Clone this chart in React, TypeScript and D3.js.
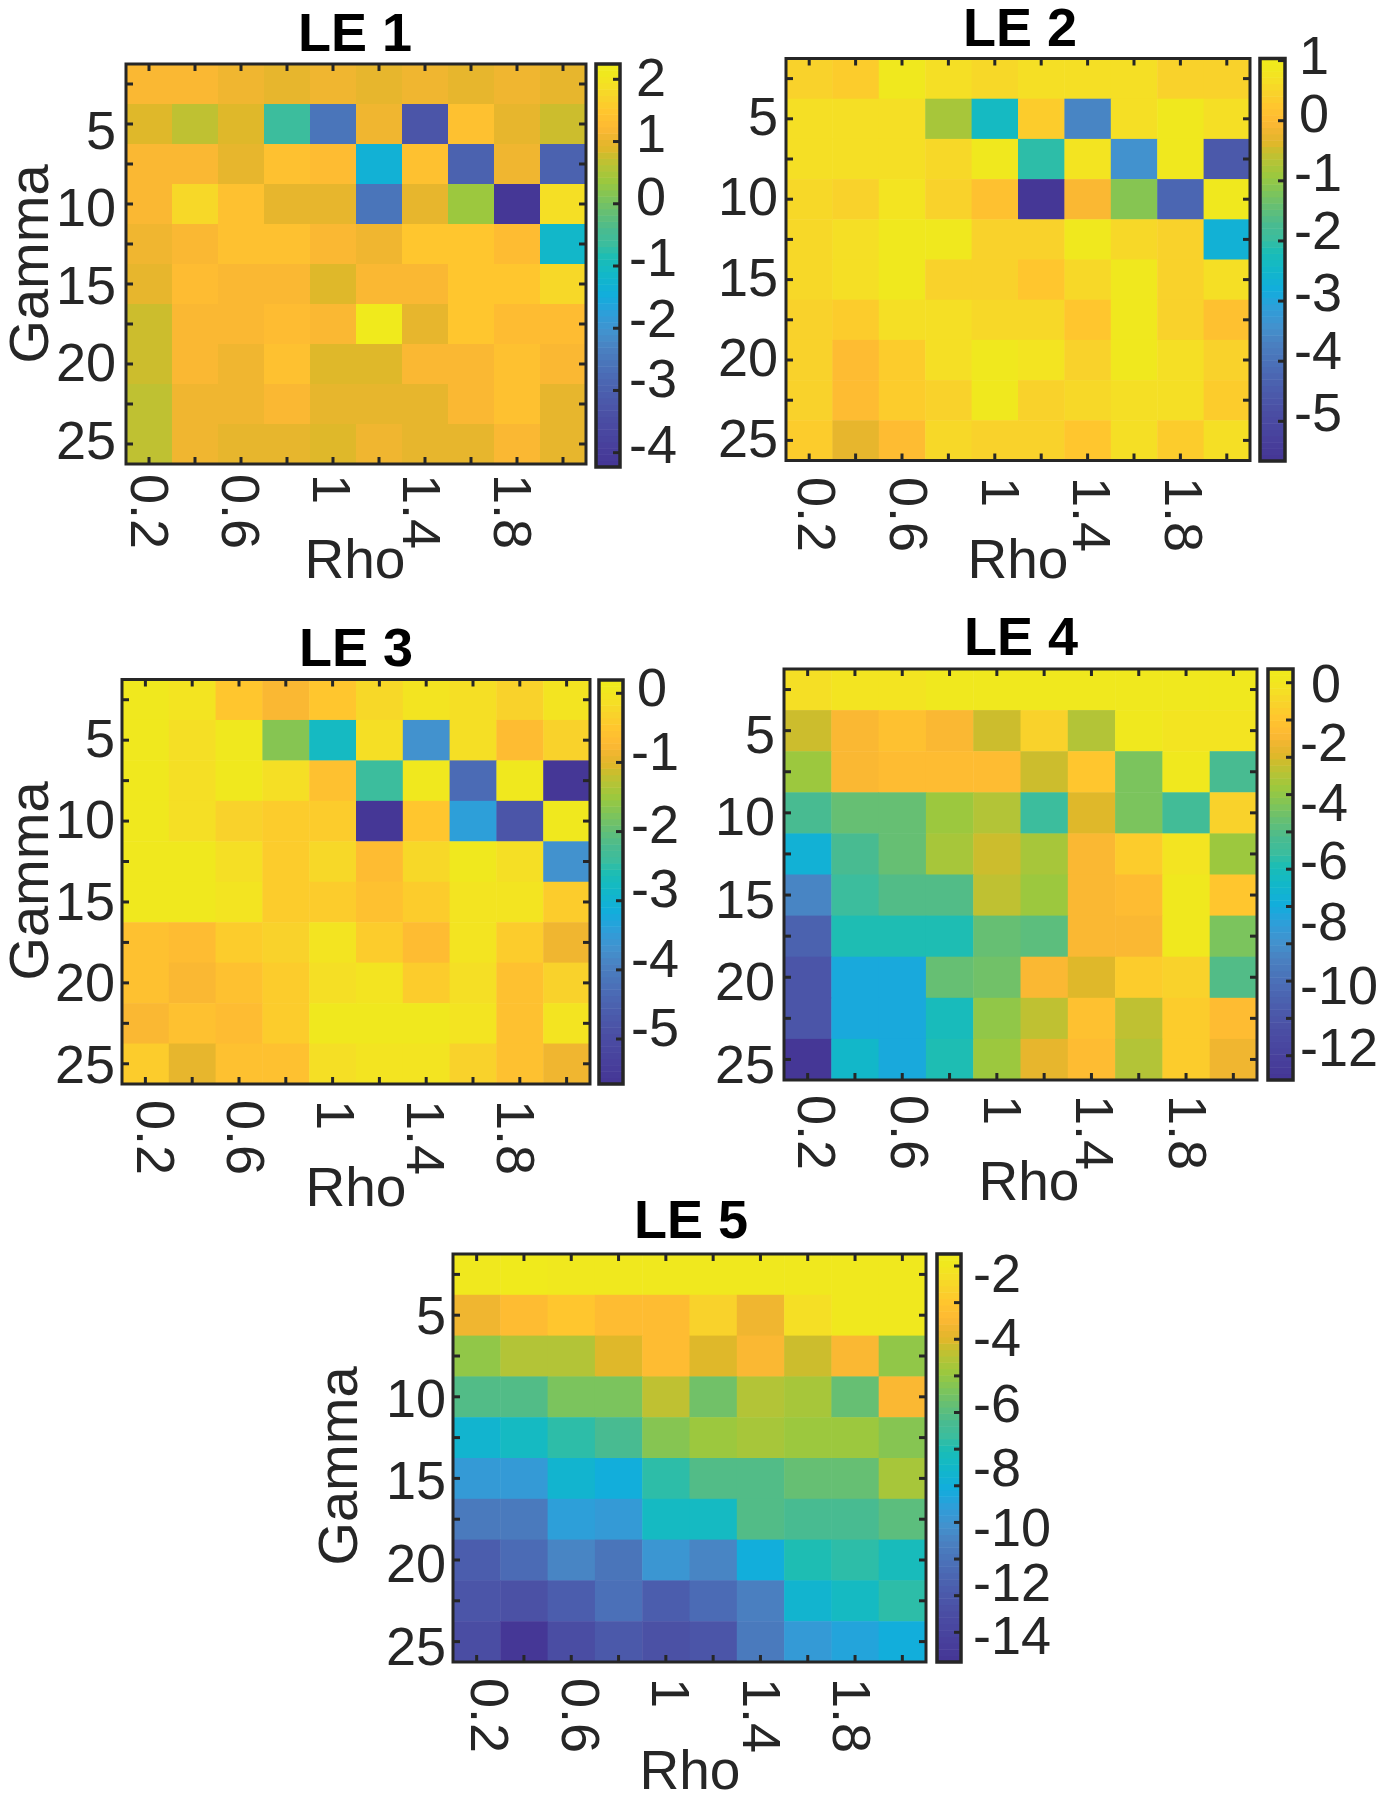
import { useEffect, useRef } from 'react';
import * as d3 from 'd3';

const rhoValues = [0.2, 0.4, 0.6, 0.8, 1, 1.2, 1.4, 1.6, 1.8, 2];
const gammaValues = [2.5, 5, 7.5, 10, 12.5, 15, 17.5, 20, 22.5, 25];
const rhoLabels = ['0.2', '0.6', '1', '1.4', '1.8'];
const gammaLabels = ['5', '10', '15', '20', '25'];

const le1Values = [
  [1.2, 1.18, 1.03, 0.97, 1.05, 0.97, 1.03, 0.92, 1.02, 0.92],
  [0.9, 0.65, 0.88, -0.65, -2.5, 1.03, -3.2, 1.37, 0.93, 0.75],
  [1.18, 1.18, 0.93, 1.38, 1.25, -1.3, 1.38, -2.92, 1.05, -2.95],
  [1.18, 1.72, 1.35, 1.0, 0.93, -2.5, 1.0, 0.35, -4.2, 1.85],
  [1.05, 1.13, 1.32, 1.32, 1.2, 1.02, 1.45, 1.45, 1.3, -1.1],
  [0.95, 1.22, 1.18, 1.18, 0.87, 1.18, 1.18, 1.42, 1.42, 1.72],
  [0.8, 1.2, 1.2, 1.25, 1.13, 2.12, 1.0, 1.42, 1.26, 1.26],
  [0.8, 1.2, 1.05, 1.37, 0.9, 0.87, 1.2, 1.2, 1.38, 1.15],
  [0.68, 1.08, 1.03, 1.18, 0.92, 0.92, 0.97, 1.15, 1.33, 0.92],
  [0.68, 1.1, 0.93, 0.93, 0.85, 1.1, 0.93, 0.93, 1.17, 0.92],
];
const le2Values = [
  [0.4, 0.32, 0.8, 0.62, 0.58, 0.68, 0.62, 0.62, 0.45, 0.45],
  [0.62, 0.62, 0.68, -0.85, -2.4, 0.3, -3.65, 0.68, 0.85, 0.6],
  [0.62, 0.62, 0.68, 0.55, 0.85, -2.1, 0.75, -3.4, 0.8, -4.6],
  [0.5, 0.38, 0.75, 0.38, 0.1, -5.65, -0.05, -1.13, -4.2, 0.85],
  [0.55, 0.68, 0.8, 0.85, 0.42, 0.38, 0.8, 0.55, 0.42, -2.65],
  [0.55, 0.62, 0.8, 0.42, 0.42, 0.25, 0.55, 0.8, 0.38, 0.6],
  [0.45, 0.3, 0.6, 0.62, 0.55, 0.55, 0.25, 0.8, 0.38, 0.15],
  [0.45, 0.05, 0.32, 0.68, 0.85, 0.72, 0.38, 0.85, 0.6, 0.38],
  [0.42, 0.05, 0.32, 0.38, 0.85, 0.45, 0.5, 0.68, 0.6, 0.32],
  [0.32, -0.35, 0.0, 0.5, 0.42, 0.42, 0.25, 0.68, 0.32, 0.68],
];
const le3Values = [
  [0.0, -0.05, -0.5, -0.75, -0.5, -0.2, -0.05, -0.1, -0.35, -0.05],
  [0.0, -0.15, 0.05, -1.68, -2.8, -0.1, -3.72, -0.1, -0.65, -0.3],
  [0.0, -0.12, 0.05, -0.1, -0.55, -2.41, 0.05, -4.3, 0.05, -5.55],
  [0.0, -0.12, -0.35, -0.4, -0.4, -5.64, -0.5, -3.43, -4.75, 0.0],
  [0.0, 0.0, -0.1, -0.4, -0.2, -0.7, -0.2, 0.0, -0.15, -3.72],
  [0.0, 0.05, -0.07, -0.42, -0.42, -0.55, -0.42, -0.07, -0.05, -0.45],
  [-0.55, -0.7, -0.42, -0.35, -0.02, -0.42, -0.65, -0.02, -0.4, -0.85],
  [-0.6, -0.8, -0.6, -0.4, -0.1, -0.02, -0.38, -0.1, -0.55, -0.35],
  [-0.75, -0.55, -0.65, -0.4, 0.05, 0.05, 0.05, -0.08, -0.55, -0.03],
  [-0.45, -1.0, -0.6, -0.6, -0.12, -0.08, -0.02, -0.3, -0.55, -0.87],
];
const le4Values = [
  [-0.35, -0.2, -0.2, 0.15, 0.15, 0.1, 0.1, 0.1, 0.0, 0.1],
  [-2.5, -1.7, -1.4, -1.75, -2.5, -0.8, -3.0, 0.15, -0.2, -0.2],
  [-3.4, -1.7, -1.65, -1.55, -1.65, -2.5, -1.1, -3.95, 0.1, -5.1],
  [-5.1, -4.4, -4.35, -3.45, -3.0, -5.55, -2.4, -4.1, -5.3, -0.8],
  [-7.0, -5.1, -4.5, -3.15, -2.55, -3.2, -1.75, -0.85, -0.2, -3.45],
  [-8.7, -5.5, -4.85, -4.8, -2.8, -3.4, -1.75, -1.5, 0.15, -1.1],
  [-10.2, -5.95, -5.95, -5.95, -4.4, -4.55, -1.7, -1.85, 0.15, -4.05],
  [-10.9, -7.25, -7.25, -4.5, -4.2, -1.7, -2.3, -1.0, -0.75, -4.85],
  [-10.8, -7.25, -7.25, -6.0, -3.7, -2.8, -1.3, -2.7, -0.9, -1.65],
  [-12.8, -6.45, -7.25, -5.8, -3.45, -2.25, -1.65, -2.95, -0.95, -2.05],
];
const le5Values = [
  [-1.9, -1.85, -2, -2.05, -2.05, -2.05, -2.05, -2, -1.95, -1.95],
  [-4.1, -3.7, -3.2, -3.7, -3.7, -2.8, -4.0, -2.4, -1.95, -1.95],
  [-5.8, -5.1, -5.1, -4.4, -3.7, -4.4, -3.8, -4.7, -3.8, -5.8],
  [-7, -7, -6.1, -6.1, -4.8, -6.3, -5.15, -5.3, -6.55, -3.9],
  [-8.8, -8.3, -7.8, -7.2, -6, -5.55, -5.3, -5.55, -5.55, -5.9],
  [-10, -10, -8.8, -9.2, -7.7, -6.95, -6.95, -6.45, -6.45, -5.3],
  [-11.2, -11.2, -9.9, -10, -8.3, -8.3, -7, -7.2, -7.2, -6.8],
  [-12.6, -12, -10.9, -11.5, -10.3, -10.8, -9.2, -8, -7.85, -8.2],
  [-13, -13.1, -12.5, -11.8, -12.6, -12, -11.1, -8.9, -8.3, -7.85],
  [-13.4, -14.9, -13.4, -12.8, -13.2, -12.9, -11.3, -10, -9.6, -9.3],
];

// colours sampled from the printed colorbars (parula after the journal's colour conversion)
const colorStops = [0, 0.13, 0.2, 0.29, 0.33, 0.38, 0.425, 0.48, 0.52, 0.555, 0.59, 0.64, 0.665, 0.71, 0.745, 0.77, 0.79, 0.81, 0.84, 0.88, 0.92, 0.95, 0.98, 1];
const colorValues = ['#453595', '#4b50a5', '#4b63b0', '#4a7fc0', '#4490cc', '#2f9ed9', '#12addd', '#12b8c8', '#1bbdb5', '#3cbd9d', '#4abb8f', '#6bc06e', '#7cc45c', '#9bc83e', '#b5c436', '#c8be2e', '#e0b82a', '#e9b52e', '#fdb934', '#ffc52e', '#f8d42a', '#f4e124', '#f0e91d', '#f0ea1c'];
const LEVELS = 64;

const ink = '#262626';

const panels = [
  {
    title: 'LE 1', values: le1Values, domain: [-4.2, 2.21],
    box: [126, 586, 64, 464], bar: [596, 620, 64, 467], titleAt: [355, 51], rhoAt: [355, 578], gammaAt: [48, 264],
    barTicks: [79.3, 452.7], barTickCount: 7,
    barLabels: ['2', '1', '0', '-1', '-2', '-3', '-4'], barLabelY: [77, 133, 196, 257, 318, 378, 444], barLabelX: [636, 629],
    xLabels: [150, 513], xLabelTop: 474, yLabels: [130, 440], yLabelRight: 116,
  },
  {
    title: 'LE 2', values: le2Values, domain: [-5.65, 1.0],
    box: [786, 1250, 58.5, 460.5], bar: [1260, 1285, 58.5, 461], titleAt: [1020, 46], rhoAt: [1018, 578], gammaAt: null,
    barTicks: [60.6, 421.3], barTickCount: 7,
    barLabels: ['1', '0', '-1', '-2', '-3', '-4', '-5'], barLabelY: [55, 113, 172, 230, 292, 350, 412], barLabelX: [1299, 1294],
    xLabels: [817, 1184], xLabelTop: 477, yLabels: [116, 438], yLabelRight: 778,
  },
  {
    title: 'LE 3', values: le3Values, domain: [-5.64, 0.18],
    box: [122, 590, 679.5, 1084], bar: [599, 623, 680, 1084], titleAt: [356, 666], rhoAt: [356, 1206], gammaAt: [48, 881],
    barTicks: [693.3, 1039], barTickCount: 6,
    barLabels: ['0', '-1', '-2', '-3', '-4', '-5'], barLabelY: [687, 751, 824, 888, 958, 1027], barLabelX: [637, 631],
    xLabels: [156, 516], xLabelTop: 1100, yLabels: [738, 1064], yLabelRight: 115,
  },
  {
    title: 'LE 4', values: le4Values, domain: [-12.8, 0.41],
    box: [784, 1257, 669, 1080], bar: [1268, 1293, 669, 1080], titleAt: [1021, 655], rhoAt: [1029, 1200], gammaAt: null,
    barTicks: [682.7, 1055.7], barTickCount: 11,
    barLabels: ['0', '-2', '-4', '-6', '-8', '-10', '-12'], barLabelY: [683, 742, 802, 860, 921, 985, 1047], barLabelX: [1311, 1300],
    xLabels: [817, 1188], xLabelTop: 1095, yLabels: [734, 1064], yLabelRight: 775,
  },
  {
    title: 'LE 5', values: le5Values, domain: [-14.92, -1.67],
    box: [453, 926, 1254, 1662], bar: [937, 961, 1254, 1662], titleAt: [691, 1238], rhoAt: [690, 1789], gammaAt: [357, 1466],
    barTicks: [1266, 1632.3], barTickCount: 11,
    barLabels: ['-2', '-4', '-6', '-8', '-10', '-12', '-14'], barLabelY: [1273, 1337, 1403, 1467, 1527, 1582, 1635], barLabelX: [975, 973],
    xLabels: [490, 852], xLabelTop: 1678, yLabels: [1315, 1646], yLabelRight: 446,
  },
];

const FONT = '"Liberation Sans", Arial, sans-serif';
const TICK_SIZE = 54;

function drawPanel(svg: d3.Selection<SVGSVGElement, unknown, null, undefined>, p: (typeof panels)[number], palette: string[]) {
  const [x0, x1, y0, y1] = p.box;
  const x = d3.scaleBand<number>().domain(rhoValues).range([x0, x1]);
  const y = d3.scaleBand<number>().domain(gammaValues).range([y0, y1]);
  const color = d3.scaleQuantize<string>().domain(p.domain as [number, number]).range(palette);

  const g = svg.append('g');

  // Heatmap cells
  p.values.forEach((row, r) => {
    g.append('g')
      .selectAll('rect')
      .data(row)
      .join('rect')
      .attr('x', (_, c) => x(rhoValues[c])!)
      .attr('y', y(gammaValues[r])!)
      .attr('width', x.bandwidth() + 0.5)
      .attr('height', y.bandwidth() + 0.5)
      .attr('fill', d => color(d));
  });

  // Box with ticks on all four sides, pointing in
  const ticks = g.append('g').attr('stroke', ink).attr('stroke-width', 3);
  rhoValues.forEach(v => {
    const tx = x(v)! + x.bandwidth() / 2;
    ticks.append('line').attr('x1', tx).attr('x2', tx).attr('y1', y1).attr('y2', y1 - 7);
    ticks.append('line').attr('x1', tx).attr('x2', tx).attr('y1', y0).attr('y2', y0 + 7);
  });
  gammaValues.forEach(v => {
    const ty = y(v)! + y.bandwidth() / 2;
    ticks.append('line').attr('x1', x0).attr('x2', x0 + 7).attr('y1', ty).attr('y2', ty);
    ticks.append('line').attr('x1', x1).attr('x2', x1 - 7).attr('y1', ty).attr('y2', ty);
  });
  g.append('rect')
    .attr('x', x0).attr('y', y0)
    .attr('width', x1 - x0).attr('height', y1 - y0)
    .attr('fill', 'none').attr('stroke', ink).attr('stroke-width', 3);

  // Colorbar
  const [bx0, bx1, by0, by1] = p.bar;
  const barY = d3.scaleBand<string>().domain(palette.slice().reverse()).range([by0, by1]);
  g.append('g')
    .selectAll('rect')
    .data(palette)
    .join('rect')
    .attr('x', bx0)
    .attr('y', d => barY(d)!)
    .attr('width', bx1 - bx0)
    .attr('height', barY.bandwidth() + 0.5)
    .attr('fill', d => d);
  const barTick = d3.scaleLinear().domain([0, p.barTickCount - 1]).range(p.barTicks);
  g.append('g')
    .selectAll('line')
    .data(d3.range(p.barTickCount))
    .join('line')
    .attr('x1', bx1 - 7)
    .attr('x2', bx1)
    .attr('y1', d => barTick(d))
    .attr('y2', d => barTick(d))
    .attr('stroke', ink)
    .attr('stroke-width', 3);
  g.append('rect')
    .attr('x', bx0).attr('y', by0)
    .attr('width', bx1 - bx0).attr('height', by1 - by0)
    .attr('fill', 'none').attr('stroke', ink).attr('stroke-width', 3.5);

  const text = (label: string, tx: number, ty: number) =>
    g.append('text')
      .attr('transform', `translate(${tx},${ty})`)
      .attr('fill', ink)
      .attr('font-family', FONT)
      .attr('font-size', TICK_SIZE)
      .text(label);

  // Colorbar labels sit where they were hand placed in the figure
  p.barLabels.forEach((label, i) => {
    const lx = label.startsWith('-') ? p.barLabelX[1] : p.barLabelX[0];
    text(label, lx, p.barLabelY[i]).attr('dy', '.35em');
  });

  // Axis tick labels
  const xLabel = d3.scaleLinear().domain([0, rhoLabels.length - 1]).range(p.xLabels);
  rhoLabels.forEach((label, i) => {
    text(label, xLabel(i), p.xLabelTop)
      .attr('transform', `translate(${xLabel(i)},${p.xLabelTop}) rotate(90)`)
      .attr('dy', '.35em');
  });
  const yLabel = d3.scaleLinear().domain([0, gammaLabels.length - 1]).range(p.yLabels);
  gammaLabels.forEach((label, i) => {
    text(label, p.yLabelRight, yLabel(i)).attr('text-anchor', 'end').attr('dy', '.35em');
  });

  // Titles
  text(p.title, p.titleAt[0], p.titleAt[1])
    .attr('text-anchor', 'middle')
    .attr('font-weight', 'bold')
    .attr('font-size', 54)
    .attr('fill', '#000');
  text('Rho', p.rhoAt[0], p.rhoAt[1]).attr('text-anchor', 'middle').attr('font-size', 55);
  if (p.gammaAt) {
    text('Gamma', p.gammaAt[0], p.gammaAt[1])
      .attr('transform', `translate(${p.gammaAt[0]},${p.gammaAt[1]}) rotate(-90)`)
      .attr('text-anchor', 'middle')
      .attr('font-size', 56);
  }
}

export default function App() {
  const svgRef = useRef<SVGSVGElement>(null);

  useEffect(() => {
    if (!svgRef.current) return;
    const svg = d3.select(svgRef.current);
    svg.selectAll('*').remove();

    const ramp = d3.scaleLinear<string>().domain(colorStops).range(colorValues).interpolate(d3.interpolateRgb);
    const palette = d3.range(LEVELS).map(i => ramp((i + 0.5) / LEVELS));

    panels.forEach(p => drawPanel(svg, p, palette));
  }, []);

  return (
    <svg
      ref={svgRef}
      width={1379}
      height={1817}
      style={{ position: 'absolute', left: 0, top: 0, background: '#fff' }}
    />
  );
}
